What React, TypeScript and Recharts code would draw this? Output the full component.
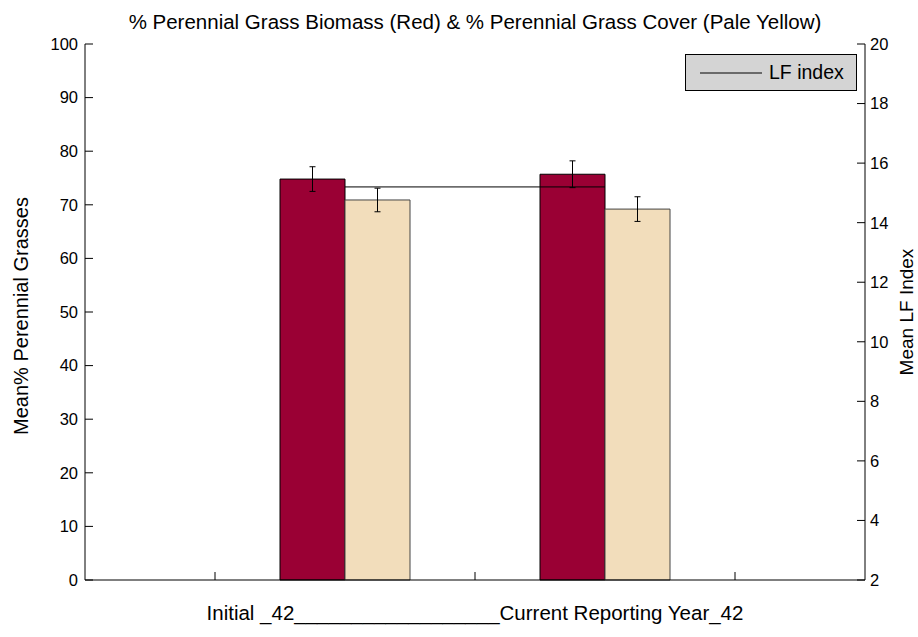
import React from "react"
import { Bar, ComposedChart, ErrorBar, Legend, Line, XAxis, YAxis } from "recharts"

document.body.style.margin = "0"

// group positions on the x axis (MATLAB bar groups at 1.5 and 2.5)
const groups = [1.5, 2.5]
const biomass = [74.8, 75.7]
const biomassErr = [2.3, 2.5]
const cover = [70.9, 69.2]
const coverErr = [2.2, 2.3]
const lfIndex = [15.2, 15.2]

const xTicks = [1, 2, 3]
const leftTicks = [0, 10, 20, 30, 40, 50, 60, 70, 80, 90, 100]
const rightTicks = [2, 4, 6, 8, 10, 12, 14, 16, 18, 20]

const data = groups.map((x, i) => ({
  x,
  biomass: biomass[i],
  biomassErr: biomassErr[i],
  cover: cover[i],
  coverErr: coverErr[i],
  lf: lfIndex[i],
}))

const FONT = '"Liberation Sans", Arial, Helvetica, sans-serif'
const RED = "#9A0034"
const PALE = "#F2DDBB"

function LeftTitle(props: any) {
  const { viewBox } = props
  const cx = viewBox.x + 21
  const cy = viewBox.y + viewBox.height / 2 + 4
  return (
    <text x={cx} y={cy} transform={`rotate(-90, ${cx}, ${cy})`} textAnchor="middle" dominantBaseline="central" fontSize={20} fill="#000" fontFamily={FONT}>
      Mean% Perennial Grasses
    </text>
  )
}

function RightTitle(props: any) {
  const { viewBox } = props
  const cx = viewBox.x + 41
  const cy = viewBox.y + viewBox.height / 2
  return (
    <text x={cx} y={cy} transform={`rotate(-90, ${cx}, ${cy})`} textAnchor="middle" dominantBaseline="central" fontSize={19} fill="#000" fontFamily={FONT}>
      Mean LF Index
    </text>
  )
}

function BottomTitle(props: any) {
  const { viewBox } = props
  return (
    <text x={viewBox.x + viewBox.width / 2} y={viewBox.y + 32} textAnchor="middle" dominantBaseline="central" fontSize={20.5} fill="#000" fontFamily={FONT}>
      Initial _42__________________Current Reporting Year_42
    </text>
  )
}

function LegendBox() {
  return (
    <div
      style={{
        width: 172,
        height: 37,
        background: "#d4d4d4",
        border: "1px solid #000",
        display: "flex",
        alignItems: "center",
        fontFamily: FONT,
        fontSize: 19.5,
        boxSizing: "border-box",
        whiteSpace: "nowrap",
      }}
    >
      <svg width={66} height={10} style={{ marginLeft: 14 }}>
        <line x1={0} y1={5} x2={62} y2={5} stroke="#000" strokeWidth={1} />
      </svg>
      <span style={{ marginLeft: 3 }}>LF index</span>
    </div>
  )
}

export default function App() {
  const tickStyle = { fontSize: 16.5, fill: "#000", fontFamily: FONT }
  return (
    <div style={{ position: "relative", width: 918, height: 637, background: "#fff" }}>
      <div
        style={{
          position: "absolute",
          left: 85,
          width: 780,
          top: 9,
          textAlign: "center",
          fontFamily: FONT,
          fontSize: 20.5,
          lineHeight: "26px",
          zIndex: 2,
        }}
      >
        % Perennial Grass Biomass (Red) &amp; % Perennial Grass Cover (Pale Yellow)
      </div>
      <ComposedChart
        width={918}
        height={637}
        data={data}
        margin={{ top: 44, right: 0, bottom: 0, left: 0 }}
        barGap={0}
        barSize={65}
      >
        <XAxis
          dataKey="x"
          type="number"
          domain={[0.5, 3.5]}
          ticks={xTicks}
          tickFormatter={() => ""}
          height={57}
          stroke="#000"
          tickSize={-8}
          label={<BottomTitle />}
        />
        <YAxis
          yAxisId="left"
          domain={[0, 100]}
          ticks={leftTicks}
          width={85}
          stroke="#000"
          tick={tickStyle}
          tickSize={-8}
          tickMargin={15}
          label={<LeftTitle />}
        />
        <YAxis
          yAxisId="right"
          orientation="right"
          domain={[2, 20]}
          ticks={rightTicks}
          width={53}
          stroke="#000"
          tick={tickStyle}
          tickSize={-8}
          tickMargin={13}
          label={<RightTitle />}
        />
        <Legend
          content={<LegendBox />}
          layout="horizontal"
          verticalAlign="middle"
          align="center"
          wrapperStyle={{ top: 54, left: 685, width: 172, height: 37 }}
        />
        <Bar yAxisId="left" dataKey="biomass" fill={RED} stroke="#000" strokeWidth={1} isAnimationActive={false}>
          <ErrorBar dataKey="biomassErr" width={3} stroke="#000" strokeWidth={1} direction="y" />
        </Bar>
        <Bar yAxisId="left" dataKey="cover" fill={PALE} stroke="#444" strokeWidth={1} isAnimationActive={false}>
          <ErrorBar dataKey="coverErr" width={3} stroke="#000" strokeWidth={1} direction="y" />
        </Bar>
        <Line yAxisId="right" dataKey="lf" stroke="#000" strokeWidth={1} dot={false} activeDot={false} isAnimationActive={false} />
      </ComposedChart>
    </div>
  )
}
